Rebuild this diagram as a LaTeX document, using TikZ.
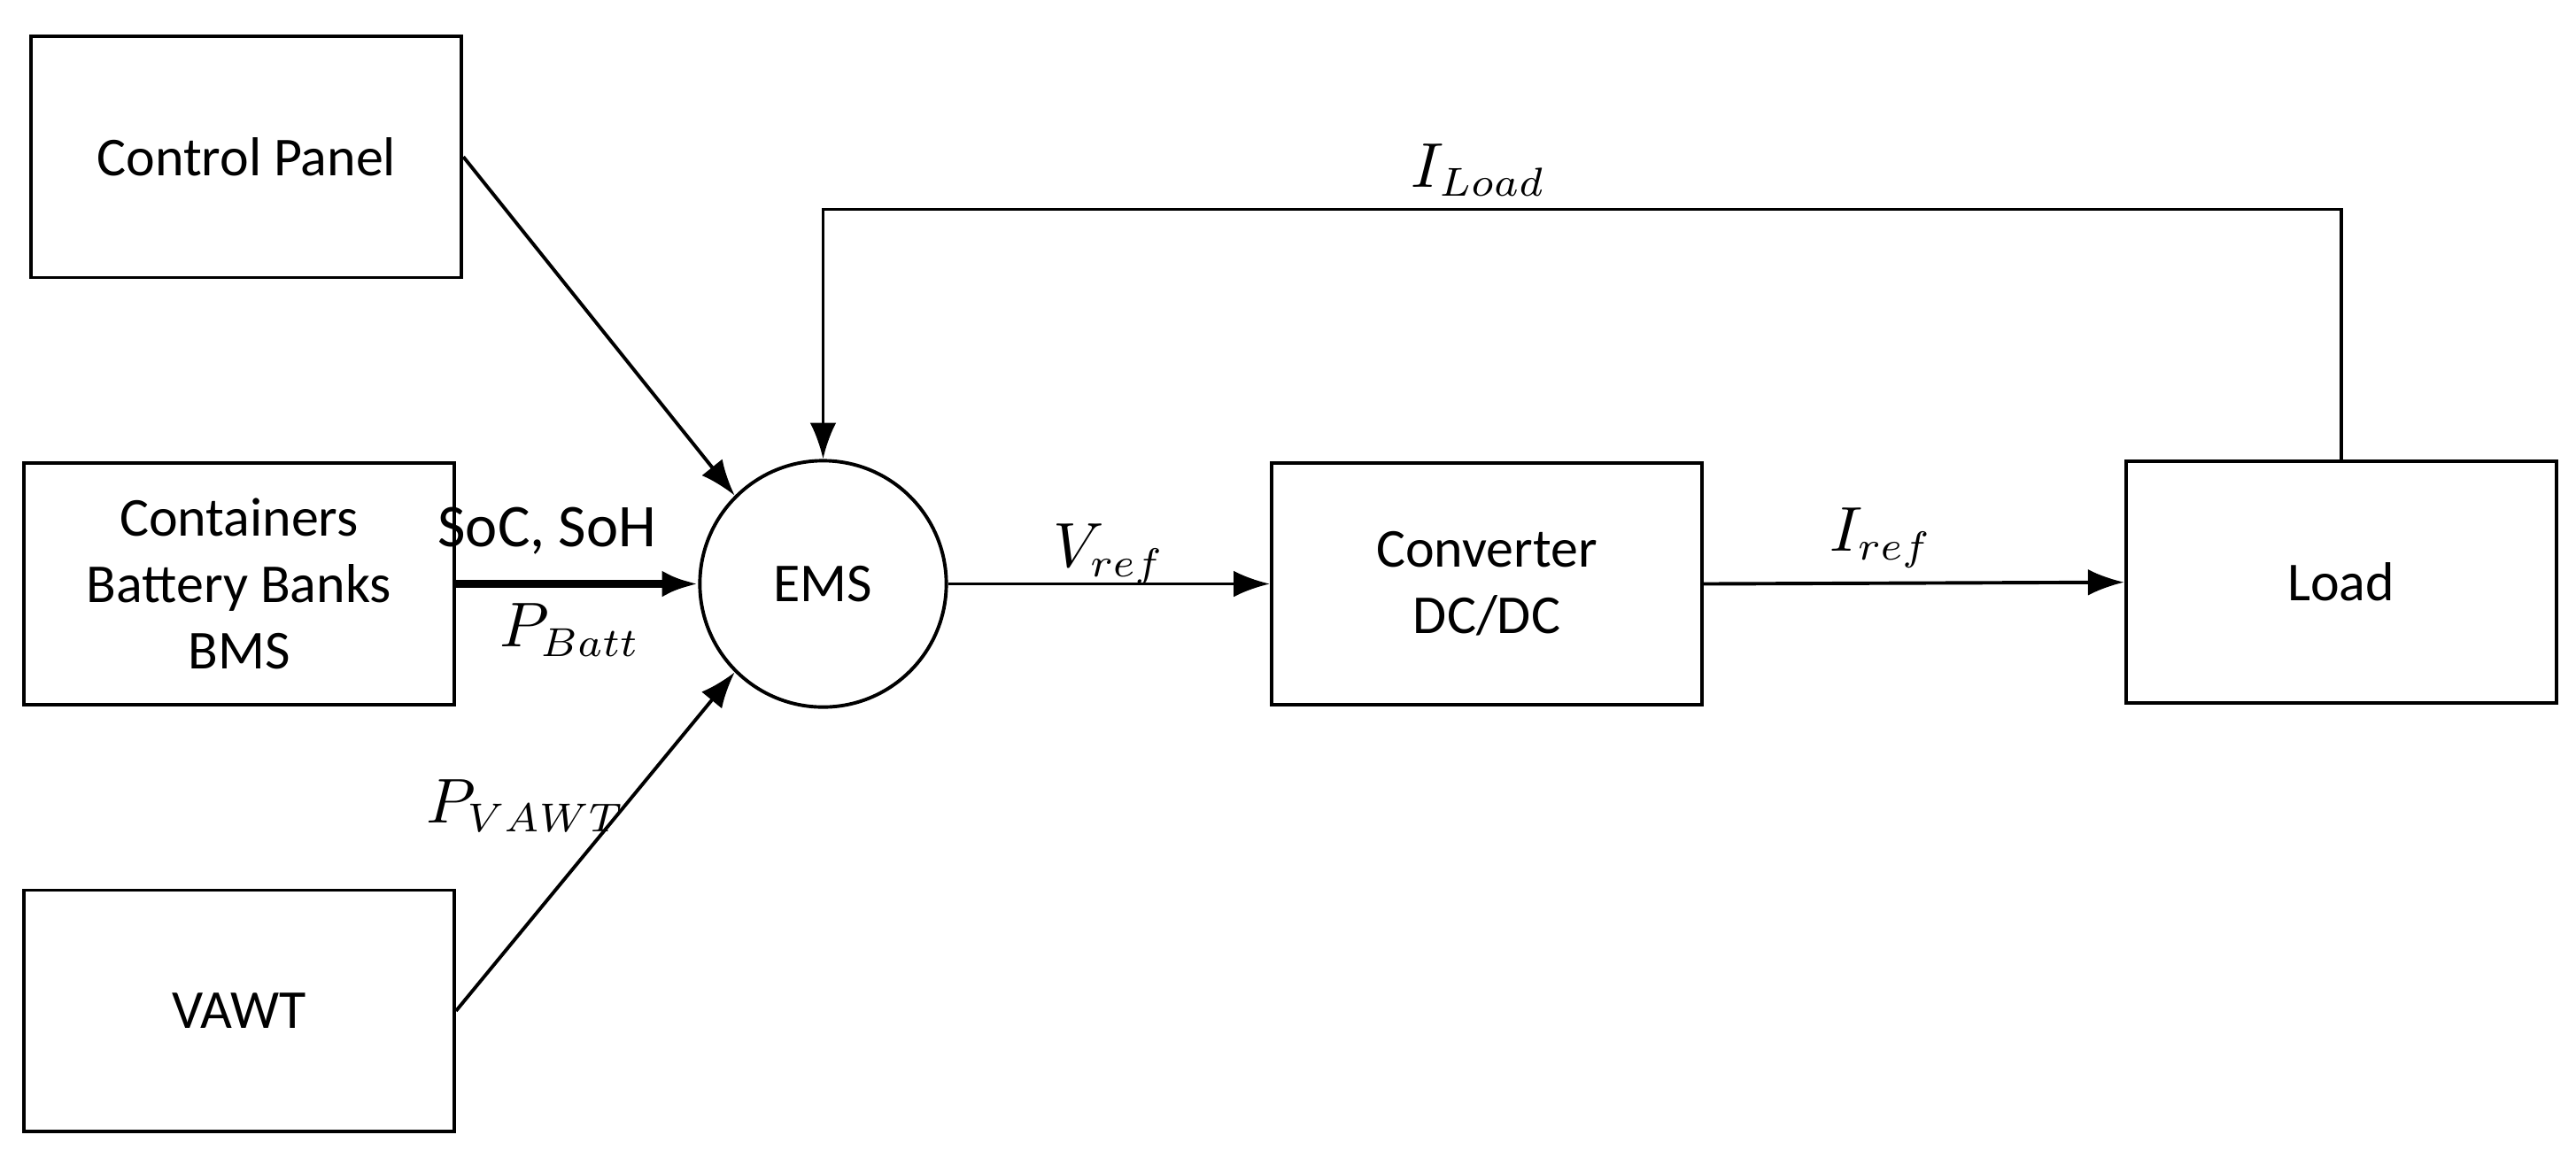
\documentclass[tikz,border=0pt]{standalone}
\usepackage{fontspec}
\setmainfont{Carlito}
\usetikzlibrary{arrows.meta, positioning, calc}

\begin{document}
\begin{tikzpicture}[%
    >={Latex[length=2.2mm,width=1.6mm]},
    every node/.style={%
      font=\fontsize{9.5}{11.5}\selectfont,
      text centered,
      align=center
    },
    block/.style={draw=black, line width=0.6pt, minimum width=2.62cm, minimum height=1.47cm},
    hub/.style={draw=black, line width=0.6pt, circle, minimum size=1.5cm},
    link/.style={->, line width=0.6pt},
    lbl/.style={font=\fontsize{10.5}{12}\selectfont}
  ]
  \useasboundingbox (0,0) rectangle (15.68,7.045);

  % Blocks
  \node[block] (panel) at (1.50,6.09) {Control Panel};
  \node[block] (batt) at (1.455,3.49) {Containers\\Battery Banks\\BMS};
  \node[block] (vawt) at (1.455,0.89) {VAWT};
  \node[hub] (ems) at (5.01,3.49) {EMS};
  \node[block] (conv) at (9.05,3.49) {Converter\\DC/DC};
  \node[block] (load) at (14.25,3.50) {Load};

  % Connectors
  \draw[link] (panel.east) -- (ems.135);
  \draw[link, line width=1.3pt] (batt.east) -- (ems.west);
  \draw[link] (vawt.east) -- (ems.225);
  \draw[link] (ems.east) -- (conv.west);
  \draw[link] (conv.east) -- (load.west);
  \coordinate (top) at (14.25,5.77);
  \draw[link] (load.north) -- (top) -| (ems.north);

  % Labels
  \node[lbl] (soc) at (3.33,3.81) {SoC, SoH};
  \node[lbl] (pbatt) at (3.47,3.21) {$P_{Batt}$};
  \node[lbl] (pvawt) at (3.20,2.14) {$P_{VAWT}$};
  \node[lbl] (vref) at (6.75,3.67) {$V_{ref}$};
  \node[lbl] (iref) at (11.45,3.77) {$I_{ref}$};
  \node[lbl] (iload) at (9.00,6.01) {$I_{Load}$};
\end{tikzpicture}
\end{document}
